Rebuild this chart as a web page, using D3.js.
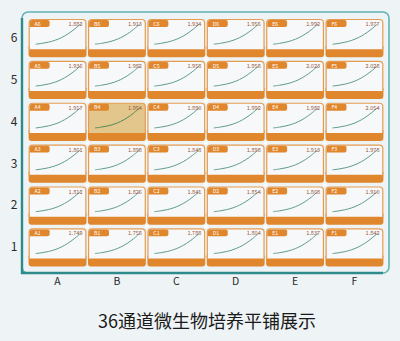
<!DOCTYPE html>
<html><head><meta charset="utf-8">
<script src="https://cdn.jsdelivr.net/npm/d3@7/dist/d3.min.js"></script>
<style>
html,body{margin:0;padding:0;background:#eef3f5;}
svg{display:block;}
</style></head>
<body>
<svg id="c" width="400" height="341"></svg>
<script>
const columns = ["A","B","C","D","E","F"];
const rows = ["6","5","4","3","2","1"];
const values = {
  "6": [1.882, 1.913, 1.934, 1.955, 1.992, 1.977],
  "5": [1.936, 1.982, 1.958, 1.958, 2.023, 2.028],
  "4": [1.917, 1.954, 1.890, 1.992, 1.982, 2.054],
  "3": [1.861, 1.898, 1.848, 1.898, 1.913, 1.978],
  "2": [1.812, 1.826, 1.841, 1.854, 1.868, 1.910],
  "1": [1.749, 1.758, 1.788, 1.804, 1.837, 1.842]
};
const growthTime = [0, 1, 2, 3, 4, 5, 6, 7];
const growthFrac = [0.0, 0.04, 0.1, 0.19, 0.32, 0.5, 0.73, 1.0];
const highlighted = "B4";
const title = "36通道微生物培养平铺展示";

const svg = d3.select("#c");
const font = "'Noto Sans CJK SC','Noto Sans',sans-serif";

const x = d3.scaleBand().domain(columns).range([28, 384]).paddingInner(0.025).paddingOuter(0.01);
const y = d3.scaleBand().domain(rows).range([18.5, 267]).paddingInner(0.085).paddingOuter(0.01);

// frame
const fx0 = 22, fx1 = 389, fy0 = 12, fy1 = 273;
svg.append("rect").attr("x", fx0).attr("y", fy0).attr("width", fx1 - fx0).attr("height", fy1 - fy0)
  .attr("rx", 6).attr("fill", "none").attr("stroke", "#62b3b3").attr("stroke-width", 1.6);
svg.append("path").attr("d", `M${fx0},${fy0+6} L${fx0},${fy1} L${fx1-6},${fy1}`)
  .attr("fill", "none").attr("stroke", "#2e8b8b").attr("stroke-width", 2.4);

const cw = x.bandwidth(), ch = y.bandwidth();
const panelH = ch * 0.79;

const cells = [];
rows.forEach(r => columns.forEach((c, i) => cells.push({row: r, col: c, id: c + r, v: values[r][i]})));

const cx = d3.scaleLinear().domain(d3.extent(growthTime)).range([7, 52]);
const cy = d3.scaleLinear().domain([0, 1]).range([panelH - 5, 5]);
const line = d3.line().x((d, i) => cx(growthTime[i])).y(d => cy(d)).curve(d3.curveCatmullRom);

const g = svg.selectAll("g.cell").data(cells).join("g").attr("class", "cell")
  .attr("transform", d => `translate(${x(d.col)},${y(d.row)})`);

g.append("path")
  .attr("d", `M0,${panelH-3} L${cw},${panelH-3} L${cw},${ch-3} Q${cw},${ch} ${cw-3},${ch} L3,${ch} Q0,${ch} 0,${ch-3} Z`)
  .attr("fill", "#e0862c");
g.append("path")
  .attr("d", `M0.6,${panelH} L0.6,4 Q0.6,0.6 4,0.6 L${cw-4},0.6 Q${cw-0.6},0.6 ${cw-0.6},4 L${cw-0.6},${panelH}`)
  .attr("fill", d => d.id === highlighted ? "#e3c68c" : "#f6f8f9")
  .attr("stroke", "#e59c52").attr("stroke-width", 1.2);
g.append("path")
  .attr("d", `M1.2,8 L1.2,4 Q1.2,1.2 4,1.2 L19,1.2 Q21,1.2 21,3 L21,6 Q21,8 19,8 Z`)
  .attr("fill", "#e0862c");
g.append("text").attr("x", 6).attr("y", 6.8).text(d => d.id)
  .attr("font-family", font).attr("font-size", 5.2).attr("fill", "#fff");
g.append("path").attr("d", line(growthFrac)).attr("fill", "none")
  .attr("stroke", d => d.id === highlighted ? "#4f8a55" : "#5f9c8f").attr("stroke-width", 1);
g.append("text").attr("x", 54).attr("y", 7.2).attr("text-anchor", "end")
  .text(d => d3.format(".3f")(d.v))
  .attr("font-family", font).attr("font-size", 5.6).attr("fill", "#9a5a44");

const junctions = [];
rows.slice(0, -1).forEach(r => columns.slice(0, -1).forEach(c => junctions.push({r, c})));
svg.selectAll("circle.j").data(junctions).join("circle").attr("class", "j")
  .attr("cx", d => x(d.c) + cw + (x.step() - cw) / 2)
  .attr("cy", d => y(d.r) + ch + (y.step() - ch) / 2)
  .attr("r", 1.8).attr("fill", "#fff");

const ax = svg.append("g").attr("transform", "translate(14,0)")
  .call(d3.axisLeft(y).tickSize(0).tickPadding(0));
ax.select(".domain").remove();
ax.selectAll("text").attr("font-family", font).attr("font-size", 12).attr("fill", "#2a2a2a").attr("text-anchor", "middle");

const bx = svg.append("g").attr("transform", "translate(0,278)")
  .call(d3.axisBottom(x).tickSize(0).tickPadding(0));
bx.select(".domain").remove();
bx.selectAll("text").attr("font-family", font).attr("font-size", 10.5).attr("fill", "#2a2a2a");

svg.append("text").attr("x", 207).attr("y", 328).attr("text-anchor", "middle")
  .attr("font-family", font).attr("font-size", 18).attr("fill", "#1a1a1a").text(title);
</script>
</body></html>
